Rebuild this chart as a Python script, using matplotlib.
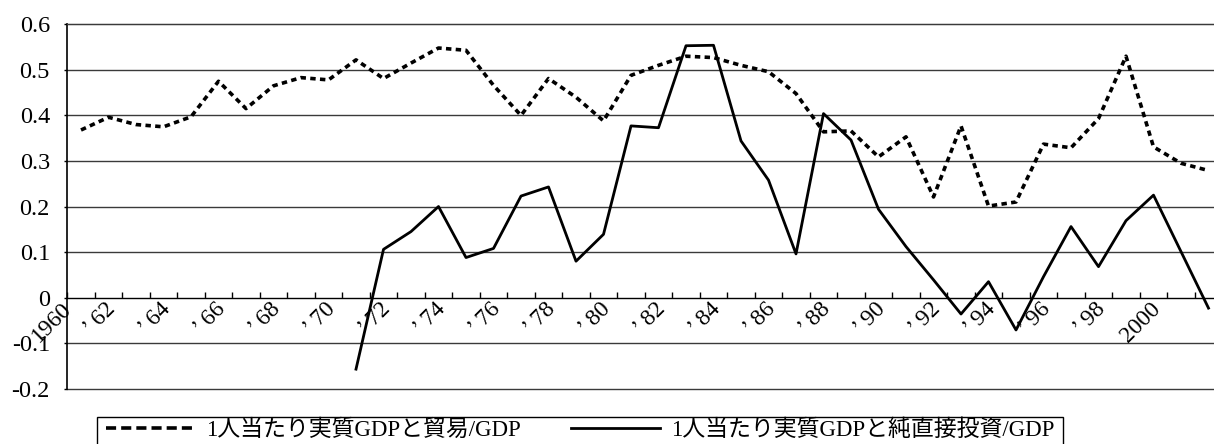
import numpy as np
import matplotlib.pyplot as plt
from matplotlib.patches import Rectangle
from matplotlib.ticker import FixedLocator

plt.rcParams['axes.unicode_minus'] = False

# correlation by year, 1960-2001
years = list(range(1960, 2002))
trade_corr = [0.368, 0.396, 0.380, 0.375, 0.397, 0.475, 0.415, 0.465, 0.483, 0.478,
              0.522, 0.481, 0.515, 0.548, 0.543, 0.466, 0.400, 0.481, 0.440, 0.388,
              0.488, 0.510, 0.530, 0.527, 0.510, 0.496, 0.448, 0.364, 0.366, 0.309,
              0.353, 0.221, 0.377, 0.201, 0.210, 0.337, 0.329, 0.393, 0.530, 0.331,
              0.295, 0.279]
fdi_corr = [np.nan] * 10 + [
    -0.157, 0.106, 0.145, 0.200, 0.088, 0.108, 0.223, 0.243, 0.080, 0.139,
    0.377, 0.373, 0.553, 0.554, 0.344, 0.258, 0.096, 0.404, 0.346, 0.194,
    0.112, 0.039, -0.036, 0.035, -0.071, 0.046, 0.156, 0.068, 0.169, 0.225,
    0.101, -0.023]

year_labels = ['1960'] + ['’ %02d' % (y % 100) for y in range(1962, 2000, 2)] + ['2000']
yticks = [-0.2, -0.1, 0, 0.1, 0.2, 0.3, 0.4, 0.5, 0.6]
ytick_labels = ['-0.2', '-0.1', '0', '0.1', '0.2', '0.3', '0.4', '0.5', '0.6']

label_trade = '1人当たり実質GDPと貿易/GDP'
label_fdi = '1人当たり実質GDPと純直接投資/GDP'

serif = ['Liberation Serif', 'Noto Sans CJK JP']
W, H = 1214, 444

fig = plt.figure(figsize=(W / 100, H / 100), dpi=100)
ax = fig.add_axes([0.0554, 0.1245, 0.9514, 0.8207])

x = np.arange(len(years))
ax.plot(x, trade_corr, color='black', lw=2.6, linestyle=(0, (1.5, 1.2)),
        label=label_trade)
ax.plot(x, fdi_corr, color='black', lw=2.0, label=label_fdi)

ax.set_xlim(-0.5, len(years) - 0.5)
ax.set_ylim(yticks[0], yticks[-1])

# horizontal grid
ax.set_yticks(yticks)
ax.set_yticklabels(ytick_labels, family=serif, fontsize=17.5)
ax.yaxis.grid(True, color='#3a3a3a', lw=1.0)
for gl in ax.yaxis.get_gridlines():
    gl.set_clip_on(False)
ax.tick_params(axis='y', direction='out', length=2.5, width=1, pad=10)

# category axis sits on the zero line
ax.spines['bottom'].set_position(('data', 0))
ax.spines['right'].set_visible(False)
ax.spines['top'].set_color('#3a3a3a')
ax.spines['left'].set_linewidth(1.2)

label_pos = np.arange(0, len(years), 2) - 0.6
label_pos[0] = -0.2
ax.set_xticks(label_pos)
ax.set_xticklabels(year_labels, family=serif, fontsize=17, rotation=45,
                   ha='right', va='top')
ax.tick_params(axis='x', which='major', length=0, pad=0.5)
ax.xaxis.set_minor_locator(FixedLocator(np.arange(-0.5, len(years), 1)))
ax.tick_params(axis='x', which='minor', direction='in', length=4, width=1)

# legend without its own frame; the box is drawn below and runs off the bottom
handles, labels = ax.get_legend_handles_labels()
leg = fig.legend(handles, labels, loc='upper left',
                 bbox_to_anchor=(106 / W, 1 - 419 / H),
                 bbox_transform=fig.transFigure, ncol=2, frameon=False,
                 borderaxespad=0, borderpad=0,
                 handlelength=3.85, handletextpad=0.52, columnspacing=2.2,
                 prop={'family': serif, 'size': 16.5})
leg.get_lines()[0].set_linestyle((0, (2.8, 1.4)))

fig.canvas.draw()
bb = leg.get_window_extent()
box_left, box_top = 96.7, 416.7
fig.patches.append(Rectangle((box_left / W, -0.05),
                             (bb.x1 + 8 - box_left) / W, 1 - box_top / H + 0.05,
                             transform=fig.transFigure, fill=False,
                             edgecolor='black', lw=1.0))

fig.savefig('out.png', dpi=100)
